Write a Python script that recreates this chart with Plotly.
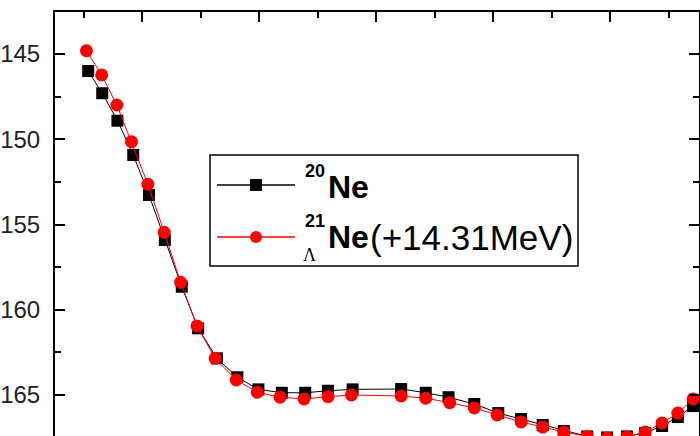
import plotly.graph_objects as go

# Deformation parameter beta and binding energy (MeV, shown positive, axis reversed)
beta_ne20 = [-0.492, -0.468, -0.442, -0.415, -0.388, -0.361, -0.332, -0.304, -0.272, -0.237,
             -0.201, -0.161, -0.121, -0.082, -0.040, 0.043, 0.085, 0.124, 0.168, 0.209,
             0.248, 0.285, 0.321, 0.361, 0.395, 0.429, 0.460, 0.489, 0.516, 0.542]
e_ne20 = [146.00, 147.30, 148.91, 150.92, 153.27, 155.91, 158.65, 161.09, 162.85, 163.96,
          164.67, 164.87, 164.87, 164.75, 164.67, 164.65, 164.87, 165.13, 165.53, 166.06,
          166.41, 166.76, 167.11, 167.43, 167.49, 167.43, 167.23, 166.82, 166.29, 165.65]

beta_ne21 = [-0.495, -0.469, -0.443, -0.418, -0.390, -0.362, -0.334, -0.306, -0.275, -0.239,
             -0.203, -0.164, -0.123, -0.082, -0.042, 0.043, 0.085, 0.126, 0.168, 0.207,
             0.248, 0.285, 0.321, 0.361, 0.395, 0.429, 0.460, 0.489, 0.516, 0.542]
e_ne21 = [144.81, 146.23, 147.99, 150.14, 152.64, 155.46, 158.39, 160.95, 162.85, 164.12,
          164.84, 165.13, 165.23, 165.10, 165.00, 165.06, 165.19, 165.45, 165.76, 166.17,
          166.58, 166.88, 167.17, 167.43, 167.52, 167.46, 167.17, 166.64, 166.06, 165.23]

y_ticks = [145, 150, 155, 160, 165]

W, H = 700, 436
L, R, T, B = 55, 1, 12, 0
PW, PH = W - L - R, H - T - B


def px(x):
    return (x - L) / PW


def py(y):
    return 1 - (y - T) / PH


fig = go.Figure()
fig.add_trace(go.Scatter(
    x=beta_ne20, y=e_ne20, mode="lines+markers",
    line=dict(color="black", width=1),
    marker=dict(symbol="square", size=12, color="black"),
    showlegend=False,
))
fig.add_trace(go.Scatter(
    x=beta_ne21, y=e_ne21, mode="lines+markers",
    line=dict(color="red", width=1),
    marker=dict(symbol="circle", size=13, color="red"),
    showlegend=False,
))

font_family = "Liberation Sans, Arial, sans-serif"

# Legend frame and sample glyphs
shapes = [
    dict(type="rect", xref="paper", yref="paper",
         x0=px(210), x1=px(578), y0=py(266), y1=py(155),
         line=dict(color="black", width=1.5), fillcolor="white", layer="below"),
    dict(type="line", xref="paper", yref="paper",
         x0=px(217), x1=px(295), y0=py(185), y1=py(185),
         line=dict(color="black", width=1.3)),
    dict(type="rect", xref="paper", yref="paper",
         x0=px(250), x1=px(262), y0=py(191), y1=py(179),
         line=dict(width=0), fillcolor="black"),
    dict(type="line", xref="paper", yref="paper",
         x0=px(217), x1=px(295), y0=py(237), y1=py(237),
         line=dict(color="red", width=1.3)),
    dict(type="circle", xref="paper", yref="paper",
         x0=px(250), x1=px(262), y0=py(243), y1=py(231),
         line=dict(width=0), fillcolor="red"),
]


def label(text, x, y, size, family=font_family):
    return dict(text=text, x=px(x), y=py(y), xref="paper", yref="paper",
                xanchor="left", yanchor="middle", showarrow=False,
                font=dict(family=family, size=size, color="black"))


annotations = [
    label("<b>20</b>", 303, 171, 18),
    label("<b>Ne</b>", 326, 187, 32),
    label("<b>21</b>", 303, 221, 18),
    label("<b>Ne</b>", 326, 237, 32),
    label("(+14.31MeV)", 368, 237, 35),
    label("Λ", 301, 255, 18, "Liberation Serif, Times New Roman, serif"),
]

fig.update_layout(
    width=W, height=H,
    margin=dict(l=L, r=R, t=T, b=B),
    paper_bgcolor="white", plot_bgcolor="white",
    shapes=shapes, annotations=annotations,
    xaxis=dict(
        range=[(L - 376) / 585, (W - R - 376) / 585],
        side="top", showline=True, linecolor="black", linewidth=2,
        ticks="inside", ticklen=10, tickwidth=1.8, tickcolor="black",
        tick0=0, dtick=0.2, showticklabels=False,
        minor=dict(ticks="inside", ticklen=6, tickwidth=1.8, tickcolor="black", dtick=0.1),
        showgrid=False, zeroline=False,
    ),
    yaxis=dict(
        range=[145 + (H - B - 54) / 17.05, 145 - (54 - T) / 17.05],
        showline=True, mirror="ticks", linecolor="black", linewidth=2,
        ticks="inside", ticklen=10, tickwidth=1.8, tickcolor="black",
        tickvals=y_ticks, ticklabelstandoff=8,
        minor=dict(ticks="inside", ticklen=6, tickwidth=1.8, tickcolor="black", dtick=2.5),
        tickfont=dict(family=font_family, size=24, color="#222"),
        showgrid=False, zeroline=False,
    ),
)

fig.write_html("out.html")
